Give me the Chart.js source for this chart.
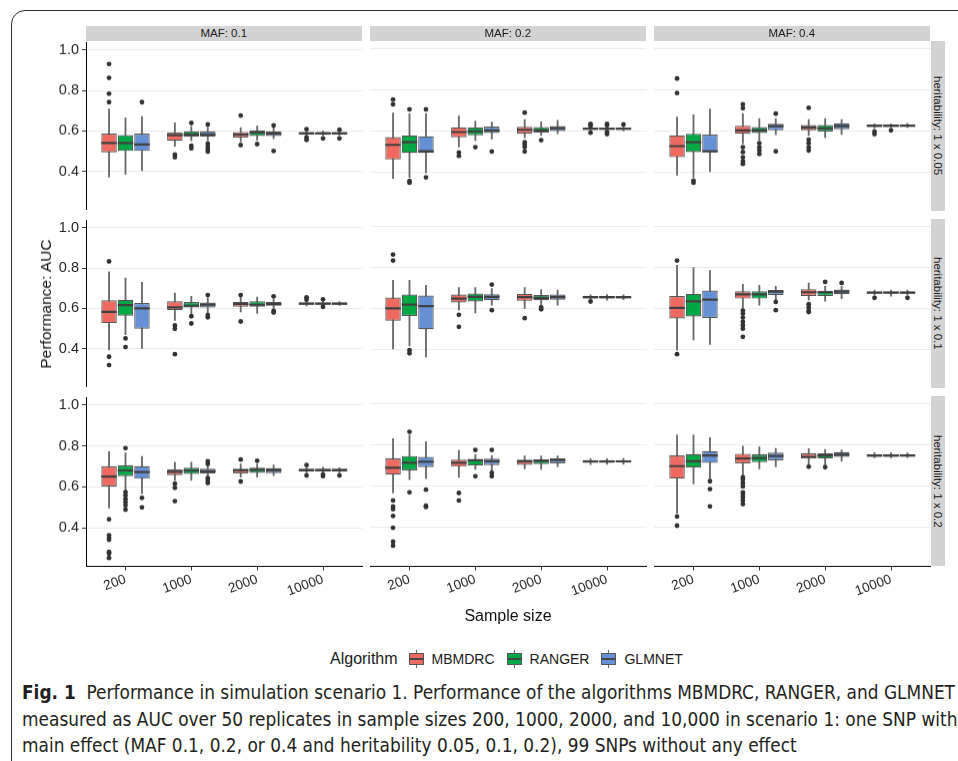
<!DOCTYPE html>
<html>
<head>
<meta charset="utf-8">
<script src="https://cdn.jsdelivr.net/npm/chart.js@4.4.1/dist/chart.umd.min.js"></script>
<style>
  body { margin: 0; background: #fff; width: 958px; height: 761px; position: relative; overflow: hidden;
         font-family: "Liberation Sans", Arial, sans-serif; }
  .frame { position: absolute; left: 11px; top: 10px; width: 1000px; height: 800px;
           border: 1.5px solid #2b2b2b; border-radius: 14px; }
  .panel { position: absolute; }
  .strip { position: absolute; background: #d3d3d3; color: #1a1a1a; font-size: 11.5px;
           display: flex; align-items: center; justify-content: center; white-space: nowrap; }
  .strip.right { writing-mode: vertical-rl; }
  .title { position: absolute; color: #111; white-space: nowrap; }
  #legend { position: absolute; left: 330px; top: 650px; height: 18px; display: flex; align-items: center;
            font-size: 14px; color: #1a1a1a; }
  .key { position: relative; width: 15px; height: 18px; margin: 0 8px 0 0; }
  .cap { position: absolute; left: 22px; font-family: "Liberation Sans Narrow", "DejaVu Sans Condensed", "Liberation Sans", sans-serif;
         font-size: 20px; line-height: 22px; color: #231f20; white-space: nowrap; transform-origin: 0 50%; }
</style>
</head>
<body>
<div class="frame"></div>
<div id="figure"></div>
<div class="title" id="ytitle" style="font-size:15.5px;left:45.5px;top:304px;transform:translate(-50%,-50%) rotate(-90deg)">Performance: AUC</div>
<div class="title" style="font-size:16px;left:508px;top:616px;transform:translate(-50%,-50%)">Sample size</div>
<div id="legend"></div>
<div class="cap" style="top:681px"><b>Fig. 1</b>&nbsp; Performance in simulation scenario 1. Performance of the algorithms MBMDRC, RANGER, and GLMNET</div>
<div class="cap" style="top:708px">measured as AUC over 50 replicates in sample sizes 200, 1000, 2000, and 10,000 in scenario 1: one SNP with</div>
<div class="cap" style="top:734px">main effect (MAF 0.1, 0.2, or 0.4 and heritability 0.05, 0.1, 0.2), 99 SNPs without any effect</div>

<script>
// --- categories / labels ---
const sampleSizes = ['200', '1000', '2000', '10000'];
const algorithms = ['MBMDRC', 'RANGER', 'GLMNET'];
const algoColors = ['#EE6A60', '#00A845', '#6690D5'];
const mafLabels = ['MAF: 0.1', 'MAF: 0.2', 'MAF: 0.4'];
const heritLabels = ['heritability: 1 x 0.05', 'heritability: 1 x 0.1', 'heritability: 1 x 0.2'];
const yTicks = [0.4, 0.6, 0.8, 1.0];

// --- box stats: [lower whisker, q1, median, q3, upper whisker, outliers] ---
// per panel, 200 (MBMDRC, RANGER, GLMNET), then 1000, 2000, 10000
const h005_maf01 = [
  [0.373, 0.494, 0.541, 0.587, 0.708, [0.930, 0.862, 0.784, 0.742]],
  [0.387, 0.501, 0.541, 0.579, 0.665, []],
  [0.404, 0.501, 0.533, 0.587, 0.671, [0.742]],
  [0.524, 0.551, 0.579, 0.592, 0.640, [0.483, 0.470]],
  [0.551, 0.571, 0.582, 0.598, 0.622, [0.639, 0.527, 0.514]],
  [0.554, 0.571, 0.582, 0.598, 0.619, [0.632, 0.538, 0.522, 0.509, 0.498]],
  [0.546, 0.567, 0.582, 0.595, 0.616, [0.676, 0.530]],
  [0.554, 0.575, 0.592, 0.603, 0.624, [0.535]],
  [0.562, 0.575, 0.587, 0.598, 0.619, [0.627, 0.501]],
  [0.577, 0.583, 0.588, 0.594, 0.603, [0.609, 0.568, 0.556]],
  [0.578, 0.583, 0.588, 0.594, 0.600, [0.563]],
  [0.578, 0.583, 0.588, 0.594, 0.600, [0.606, 0.563]]
];
const h005_maf02 = [
  [0.371, 0.462, 0.533, 0.571, 0.687, [0.752, 0.729]],
  [0.375, 0.494, 0.546, 0.579, 0.684, [0.705, 0.358, 0.350]],
  [0.397, 0.494, 0.502, 0.574, 0.684, [0.705, 0.376]],
  [0.522, 0.569, 0.595, 0.618, 0.673, [0.496, 0.480]],
  [0.554, 0.579, 0.598, 0.618, 0.648, [0.522]],
  [0.562, 0.590, 0.603, 0.622, 0.643, [0.501]],
  [0.567, 0.588, 0.606, 0.621, 0.656, [0.689, 0.546, 0.535, 0.522, 0.501]],
  [0.579, 0.593, 0.603, 0.619, 0.645, [0.556]],
  [0.587, 0.600, 0.614, 0.624, 0.652, []],
  [0.600, 0.606, 0.611, 0.616, 0.622, [0.635, 0.625, 0.592]],
  [0.600, 0.606, 0.611, 0.616, 0.625, [0.635, 0.628, 0.595, 0.585]],
  [0.600, 0.606, 0.611, 0.616, 0.625, [0.632]]
];
const h005_maf04 = [
  [0.387, 0.473, 0.527, 0.579, 0.668, [0.854, 0.784]],
  [0.376, 0.498, 0.546, 0.587, 0.679, [0.360, 0.350]],
  [0.404, 0.498, 0.502, 0.583, 0.707, []],
  [0.538, 0.587, 0.603, 0.626, 0.684, [0.729, 0.710, 0.522, 0.498, 0.473, 0.454, 0.441]],
  [0.554, 0.590, 0.603, 0.619, 0.660, [0.541, 0.522, 0.506, 0.489]],
  [0.582, 0.603, 0.624, 0.635, 0.660, [0.684, 0.502]],
  [0.579, 0.603, 0.616, 0.629, 0.656, [0.712, 0.558, 0.541, 0.522, 0.506]],
  [0.567, 0.598, 0.613, 0.629, 0.660, []],
  [0.583, 0.609, 0.624, 0.637, 0.656, []],
  [0.615, 0.619, 0.626, 0.632, 0.635, [0.598, 0.585]],
  [0.615, 0.619, 0.626, 0.632, 0.635, [0.603]],
  [0.617, 0.621, 0.626, 0.632, 0.637, []]
];
const h01_maf01 = [
  [0.394, 0.527, 0.583, 0.640, 0.781, [0.833, 0.360, 0.319]],
  [0.470, 0.564, 0.616, 0.643, 0.750, [0.451, 0.408]],
  [0.402, 0.499, 0.600, 0.627, 0.729, []],
  [0.540, 0.592, 0.605, 0.635, 0.676, [0.515, 0.499, 0.373]],
  [0.567, 0.605, 0.613, 0.632, 0.660, [0.561, 0.525]],
  [0.575, 0.605, 0.619, 0.629, 0.652, [0.666, 0.567, 0.556]],
  [0.583, 0.608, 0.622, 0.632, 0.656, [0.666, 0.535]],
  [0.575, 0.608, 0.618, 0.635, 0.656, []],
  [0.600, 0.613, 0.622, 0.632, 0.647, [0.660, 0.587, 0.579]],
  [0.612, 0.618, 0.624, 0.629, 0.636, [0.655, 0.643]],
  [0.613, 0.618, 0.624, 0.629, 0.636, [0.645, 0.608]],
  [0.615, 0.618, 0.624, 0.629, 0.634, []]
];
const h01_maf02 = [
  [0.404, 0.540, 0.601, 0.653, 0.737, [0.862, 0.833]],
  [0.418, 0.564, 0.619, 0.668, 0.737, [0.397, 0.382]],
  [0.365, 0.499, 0.611, 0.663, 0.713, []],
  [0.592, 0.629, 0.648, 0.668, 0.702, [0.569, 0.511]],
  [0.579, 0.634, 0.656, 0.673, 0.702, []],
  [0.616, 0.640, 0.656, 0.669, 0.697, [0.716, 0.592]],
  [0.600, 0.637, 0.655, 0.671, 0.702, [0.553]],
  [0.616, 0.640, 0.652, 0.665, 0.692, [0.605, 0.596]],
  [0.616, 0.643, 0.655, 0.668, 0.689, []],
  [0.643, 0.648, 0.655, 0.661, 0.666, [0.634]],
  [0.641, 0.648, 0.655, 0.661, 0.668, []],
  [0.643, 0.649, 0.655, 0.661, 0.666, []]
];
const h01_maf04 = [
  [0.397, 0.551, 0.603, 0.661, 0.810, [0.833, 0.378]],
  [0.447, 0.561, 0.635, 0.671, 0.799, []],
  [0.425, 0.554, 0.643, 0.687, 0.784, []],
  [0.600, 0.648, 0.669, 0.684, 0.718, [0.590, 0.575, 0.556, 0.535, 0.519, 0.502, 0.462]],
  [0.616, 0.648, 0.669, 0.684, 0.712, []],
  [0.640, 0.666, 0.682, 0.690, 0.708, [0.632, 0.592]],
  [0.640, 0.661, 0.679, 0.694, 0.724, [0.621, 0.605, 0.588, 0.583]],
  [0.635, 0.661, 0.679, 0.686, 0.708, [0.729]],
  [0.648, 0.669, 0.682, 0.692, 0.708, [0.724]],
  [0.665, 0.673, 0.677, 0.682, 0.690, [0.652]],
  [0.660, 0.673, 0.677, 0.682, 0.690, []],
  [0.665, 0.673, 0.677, 0.682, 0.690, [0.652]]
];
const h02_maf01 = [
  [0.496, 0.602, 0.650, 0.699, 0.772, [0.441, 0.363, 0.351, 0.341, 0.281, 0.273, 0.252]],
  [0.582, 0.652, 0.680, 0.704, 0.766, [0.789, 0.574, 0.558, 0.541, 0.525, 0.509, 0.488]],
  [0.566, 0.639, 0.672, 0.701, 0.748, [0.546, 0.499]],
  [0.631, 0.657, 0.673, 0.685, 0.720, [0.615, 0.595, 0.530]],
  [0.631, 0.663, 0.680, 0.693, 0.720, []],
  [0.650, 0.665, 0.676, 0.688, 0.705, [0.725, 0.712, 0.642, 0.631, 0.618]],
  [0.647, 0.665, 0.680, 0.689, 0.712, [0.733, 0.626]],
  [0.647, 0.668, 0.683, 0.693, 0.712, [0.727]],
  [0.654, 0.667, 0.680, 0.691, 0.707, []],
  [0.665, 0.675, 0.681, 0.688, 0.697, [0.706, 0.655]],
  [0.665, 0.675, 0.681, 0.688, 0.695, [0.660, 0.652]],
  [0.665, 0.675, 0.681, 0.688, 0.693, [0.655]]
];
const h02_maf02 = [
  [0.566, 0.655, 0.688, 0.733, 0.829, [0.530, 0.501, 0.488, 0.455, 0.398, 0.330, 0.311]],
  [0.631, 0.675, 0.712, 0.745, 0.846, [0.862, 0.569]],
  [0.636, 0.691, 0.717, 0.741, 0.815, [0.582, 0.504, 0.498]],
  [0.642, 0.693, 0.712, 0.728, 0.772, [0.566, 0.530]],
  [0.680, 0.699, 0.724, 0.728, 0.753, [0.774, 0.647]],
  [0.672, 0.701, 0.720, 0.732, 0.748, [0.774, 0.663, 0.647]],
  [0.683, 0.702, 0.719, 0.728, 0.745, []],
  [0.680, 0.706, 0.722, 0.729, 0.745, []],
  [0.693, 0.709, 0.725, 0.733, 0.745, []],
  [0.704, 0.712, 0.719, 0.725, 0.732, []],
  [0.705, 0.712, 0.719, 0.725, 0.732, []],
  [0.705, 0.713, 0.719, 0.725, 0.733, []]
];
const h02_maf04 = [
  [0.468, 0.636, 0.696, 0.748, 0.846, [0.452, 0.408]],
  [0.610, 0.689, 0.720, 0.754, 0.846, []],
  [0.634, 0.712, 0.748, 0.769, 0.834, [0.623, 0.585, 0.501]],
  [0.650, 0.709, 0.733, 0.756, 0.793, [0.642, 0.631, 0.615, 0.598, 0.569, 0.558, 0.546, 0.530, 0.512]],
  [0.683, 0.715, 0.735, 0.753, 0.789, []],
  [0.693, 0.724, 0.745, 0.761, 0.782, []],
  [0.704, 0.732, 0.741, 0.758, 0.780, [0.693]],
  [0.704, 0.733, 0.748, 0.758, 0.777, [0.691]],
  [0.720, 0.741, 0.751, 0.764, 0.774, []],
  [0.736, 0.741, 0.748, 0.753, 0.761, []],
  [0.736, 0.741, 0.748, 0.753, 0.761, []],
  [0.738, 0.742, 0.748, 0.753, 0.760, []]
];

const grid = [
  [h005_maf01, h005_maf02, h005_maf04],
  [h01_maf01, h01_maf02, h01_maf04],
  [h02_maf01, h02_maf02, h02_maf04]
];

// --- layout of the facets ---
const PX = [85.5, 369.5, 653.5], PW = 276.5;
const PY = [41.2, 218.7, 396.2], PH = 169.5;
const dodge = [-0.25, 0, 0.25];
const Y_AXIS_W = 44, X_AXIS_H = 40, PAD = 10;

Chart.defaults.font.family = '"Liberation Sans", Arial, sans-serif';
Chart.defaults.color = '#262626';

function buildDatasets(stats) {
  const whisk = [], box = [], med = [], out = [], boxCol = [];
  stats.forEach((b, i) => {
    const x = Math.floor(i / 3) + dodge[i % 3];
    whisk.push({ x, y: [b[0], b[4]] });
    box.push({ x, y: [b[1], b[3]] });
    boxCol.push(algoColors[i % 3]);
    med.push({ x, y: b[2] });
    b[5].forEach(v => out.push({ x, y: v }));
  });
  return [
    { type: 'bar', data: whisk, grouped: false, barThickness: 1.2, backgroundColor: '#6a6a6a', borderWidth: 0, order: 4 },
    { type: 'bar', data: box, grouped: false, categoryPercentage: 1, barPercentage: 0.94,
      backgroundColor: boxCol, borderColor: '#555', borderWidth: 1.2, borderSkipped: false, order: 3 },
    { type: 'scatter', data: med, pointStyle: 'line', borderColor: '#404040', borderWidth: 2.2,
      radius: ctx => { const s = ctx.chart.scales.x; return (s.getPixelForValue(0.25) - s.getPixelForValue(0)) * 0.47; },
      order: 2 },
    { type: 'scatter', data: out, pointRadius: 2.4, backgroundColor: '#333', borderWidth: 0, order: 1 }
  ];
}

const fig = document.getElementById('figure');

for (let r = 0; r < 3; r++) {
  for (let c = 0; c < 3; c++) {
    const padL = PAD + (c === 0 ? Y_AXIS_W : 0);
    const padB = r === 2 ? X_AXIS_H : PAD;
    const wrap = document.createElement('div');
    wrap.className = 'panel';
    wrap.style.left = (PX[c] - padL) + 'px';
    wrap.style.top = (PY[r] - PAD) + 'px';
    wrap.style.width = (PW + padL + PAD) + 'px';
    wrap.style.height = (PH + PAD + padB) + 'px';
    const cv = document.createElement('canvas');
    wrap.appendChild(cv);
    fig.appendChild(wrap);

    new Chart(cv, {
      type: 'bar',
      data: { datasets: buildDatasets(grid[r][c]) },
      options: {
        responsive: true,
        maintainAspectRatio: false,
        animation: false,
        events: [],
        layout: { padding: { left: PAD, top: PAD, right: PAD, bottom: r === 2 ? 0 : PAD } },
        plugins: { legend: { display: false }, tooltip: { enabled: false } },
        scales: {
          x: {
            type: 'linear', min: -0.6, max: 3.6, offset: false,
            display: r === 2,
            afterBuildTicks: s => { s.ticks = sampleSizes.map((_, i) => ({ value: i })); },
            ticks: { callback: v => sampleSizes[v], minRotation: 20, maxRotation: 20, autoSkip: false,
                     font: { size: 13.5 }, padding: 1 },
            grid: { drawOnChartArea: false, drawTicks: true, tickLength: 4, tickColor: '#333', offset: false },
            border: { display: true, color: '#000', width: 1 },
            afterFit: s => { s.height = r === 2 ? X_AXIS_H : 0; }
          },
          y: {
            min: 0.211, max: 1.035,
            afterBuildTicks: s => { s.ticks = yTicks.map(v => ({ value: v })); },
            ticks: { display: c === 0, callback: v => v.toFixed(1), font: { size: 14.5 }, padding: 3 },
            grid: { color: '#ebebeb', lineWidth: 1, drawTicks: c === 0, tickLength: 4, tickColor: '#333' },
            border: { display: c === 0, color: '#000', width: 1 },
            afterFit: s => { s.width = c === 0 ? Y_AXIS_W : 0; }
          }
        }
      }
    });
  }
}

// --- facet strips ---
mafLabels.forEach((t, c) => {
  const d = document.createElement('div');
  d.className = 'strip';
  d.textContent = t;
  Object.assign(d.style, { left: PX[c] + 'px', top: '26px', width: PW + 'px', height: '14.7px' });
  fig.appendChild(d);
});
heritLabels.forEach((t, r) => {
  const d = document.createElement('div');
  d.className = 'strip right';
  d.textContent = t;
  Object.assign(d.style, { left: '930.5px', top: PY[r] + 'px', width: '14.5px', height: PH + 'px' });
  fig.appendChild(d);
});

// --- legend ---
const legend = document.getElementById('legend');
legend.innerHTML = '<span style="font-size:16px;margin-right:11px">Algorithm</span>';
algorithms.forEach((name, i) => {
  const key = document.createElement('div');
  key.className = 'key';
  key.innerHTML =
    '<div style="position:absolute;left:7px;top:0;width:1px;height:18px;background:#666"></div>' +
    '<div style="position:absolute;left:0;top:3px;width:13px;height:10px;border:1px solid #555;background:' + algoColors[i] + '"></div>' +
    '<div style="position:absolute;left:1px;top:7.5px;width:13px;height:2px;background:#444"></div>';
  legend.appendChild(key);
  const lab = document.createElement('span');
  lab.textContent = name;
  lab.style.marginRight = i < algorithms.length - 1 ? '12px' : '0';
  legend.appendChild(lab);
});

// --- caption: squeeze lines to the printed width ---
const caps = document.querySelectorAll('.cap');
const k = 933 / caps[0].getBoundingClientRect().width;
caps.forEach(el => { el.style.transform = 'scaleX(' + k + ')'; });
</script>
</body>
</html>
